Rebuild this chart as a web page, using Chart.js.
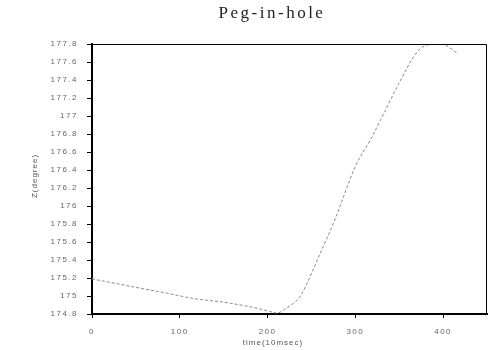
<!DOCTYPE html>
<html>
<head>
<meta charset="utf-8">
<script src="https://cdn.jsdelivr.net/npm/chart.js@4"></script>
<style>
html,body{margin:0;padding:0;background:#fff;}
#c{display:block;}
</style>
</head>
<body>
<canvas id="c" width="488" height="350"></canvas>
<script>
// Data
const timeValues = [0, 48, 86, 117, 151, 185, 202, 211, 219, 236, 241, 258, 278, 300, 318, 330, 349, 368, 379, 394, 402, 417];
const zValues = [175.19, 175.1, 175.03, 174.97, 174.93, 174.87, 174.83, 174.81, 174.85, 174.98, 175.06, 175.43, 175.88, 176.44, 176.75, 176.98, 177.35, 177.68, 177.78, 177.8, 177.79, 177.69];
const xTickValues = [0, 100, 200, 300, 400];
const yTickValues = [174.8, 175, 175.2, 175.4, 175.6, 175.8, 176, 176.2, 176.4, 176.6, 176.8, 177, 177.2, 177.4, 177.6, 177.8];
const chartTitle = 'Peg-in-hole';
const xTitle = 'time(10msec)';
const yTitle = 'Z(degree)';

const points = timeValues.map((t, i) => ({x: t, y: zValues[i]}));

const spacingPlugin = {
  id: 'spacing',
  beforeDraw(chart) { chart.ctx.letterSpacing = '1.5px'; },
  afterDraw(chart) { chart.ctx.letterSpacing = '0px'; }
};

const textPlugin = {
  id: 'texts',
  afterDraw(chart) {
    const ctx = chart.ctx;
    const a = chart.chartArea;
    ctx.save();
    ctx.letterSpacing = '0px';
    // frame (top & right)
    ctx.strokeStyle = '#000';
    ctx.lineWidth = 1;
    ctx.beginPath();
    ctx.moveTo(a.left, a.top + 0.5);
    ctx.lineTo(a.right - 0.5, a.top + 0.5);
    ctx.lineTo(a.right - 0.5, a.bottom);
    ctx.stroke();
    // main title
    ctx.fillStyle = '#222';
    ctx.font = '17px "Liberation Serif", "DejaVu Serif", serif';
    ctx.letterSpacing = '2.5px';
    ctx.textAlign = 'center';
    ctx.textBaseline = 'middle';
    ctx.fillText(chartTitle, 272, 14);
    // x title
    ctx.fillStyle = '#555';
    ctx.letterSpacing = '1px';
    ctx.font = '8px "Liberation Sans", "DejaVu Sans", sans-serif';
    ctx.fillText(xTitle, 273, 343);
    // y title
    ctx.translate(35, 176);
    ctx.rotate(-Math.PI / 2);
    ctx.fillText(yTitle, 0, 0);
    ctx.restore();
  }
};

new Chart(document.getElementById('c'), {
  type: 'scatter',
  data: {
    datasets: [{
      data: points,
      showLine: true,
      borderColor: '#8a8a8a',
      borderWidth: 1,
      borderDash: [3, 2],
      pointRadius: 0,
      cubicInterpolationMode: 'monotone',
      fill: false
    }]
  },
  options: {
    responsive: false,
    animation: false,
    layout: {padding: {top: 44, right: 1, left: 0, bottom: 0}},
    plugins: {legend: {display: false}, tooltip: {enabled: false}, title: {display: false}},
    scales: {
      x: {
        type: 'linear',
        min: 0,
        max: 450,
        afterBuildTicks(s) { s.ticks = xTickValues.map(v => ({value: v})); },
        afterFit(s) { s.height = 36; },
        border: {display: true, color: '#000', width: 2},
        grid: {display: true, drawOnChartArea: false, tickLength: 4, color: '#000'},
        ticks: {
          padding: 9,
          color: '#666',
          font: {family: '"Liberation Sans", "DejaVu Sans", sans-serif', size: 8},
          callback: v => String(v)
        }
      },
      y: {
        type: 'linear',
        min: 174.8,
        max: 177.8,
        afterBuildTicks(s) { s.ticks = yTickValues.map(v => ({value: v})); },
        afterFit(s) { s.width = 92; },
        border: {display: true, color: '#000', width: 2},
        grid: {display: true, drawOnChartArea: false, tickLength: 5, color: '#000'},
        ticks: {
          padding: 9,
          color: '#666',
          font: {family: '"Liberation Sans", "DejaVu Sans", sans-serif', size: 8},
          callback: v => String(Math.round(v * 10) / 10)
        }
      }
    }
  },
  plugins: [spacingPlugin, textPlugin]
});
</script>
</body>
</html>
